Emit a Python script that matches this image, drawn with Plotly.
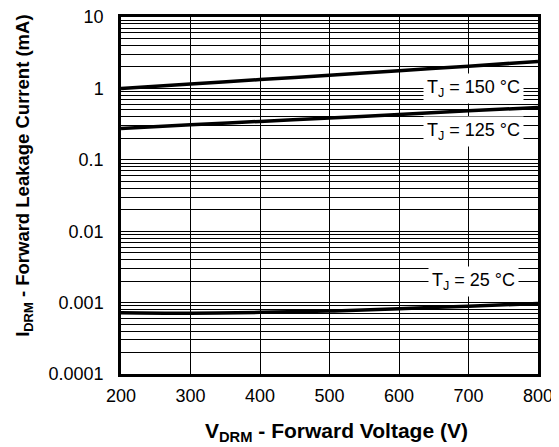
import math
import plotly.graph_objects as go

voltage = [200, 300, 400, 500, 600, 700, 800]
i_150 = [1.0, 1.15, 1.33, 1.53, 1.77, 2.05, 2.38]
i_125 = [0.275, 0.31, 0.345, 0.385, 0.43, 0.485, 0.54]
i_25 = [0.00072, 0.00071, 0.00073, 0.00076, 0.00082, 0.00089, 0.00097]

x_ticks = [200, 300, 400, 500, 600, 700, 800]
y_ticks = [0.0001, 0.001, 0.01, 0.1, 1, 10]
y_ticktext = ["0.0001", "0.001", "0.01", "0.1", "1", "10"]
y_minor = [m * 10 ** e for e in range(-4, 1) for m in range(2, 10)]

labels = ["T<sub>J</sub> = 150 °C", "T<sub>J</sub> = 125 °C", "T<sub>J</sub> = 25 °C"]
label_x = [707, 707, 707]
label_y = [1.0, 0.25, 0.00198]

x_title = "<b>V<sub>DRM</sub> - Forward Voltage (V)</b>"
y_title = "<b>I<sub>DRM</sub> - Forward Leakage Current (mA)</b>"

FONT = "Liberation Sans, Arial, Helvetica, sans-serif"

fig = go.Figure()
for ys in (i_150, i_125, i_25):
    fig.add_trace(go.Scatter(x=voltage, y=ys, mode="lines",
                             line=dict(color="black", width=3.5, shape="spline"),
                             showlegend=False, hoverinfo="skip"))

for t, lx, ly in zip(labels, label_x, label_y):
    fig.add_annotation(x=lx, y=math.log10(ly), text=t, showarrow=False,
                       bgcolor="white", font=dict(size=18, color="black", family=FONT),
                       borderpad=3)

# axis titles as annotations for precise placement
fig.add_annotation(text=x_title, xref="paper", yref="paper", x=0.517, y=0,
                   xanchor="center", yanchor="middle", yshift=-58, showarrow=False,
                   font=dict(size=21, color="black", family=FONT))
fig.add_annotation(text=y_title, xref="paper", yref="paper", x=0, y=0.555,
                   xanchor="center", yanchor="middle", xshift=-97, textangle=-90,
                   showarrow=False, font=dict(size=18.5, color="black", family=FONT))

fig.update_layout(
    width=551, height=439,
    margin=dict(l=113, r=21, t=9, b=73),
    paper_bgcolor="white", plot_bgcolor="white",
    font=dict(family=FONT, color="black", size=18),
    xaxis=dict(range=[200, 800], tickvals=x_ticks, showgrid=True, gridcolor="black",
               gridwidth=1, showline=True, linecolor="black", linewidth=2.5, mirror=True,
               ticks="", zeroline=False, tickfont=dict(size=18), ticklabelstandoff=4,
               automargin=False, ticklabeloverflow="allow"),
    yaxis=dict(type="log", range=[-4, 1], tickvals=y_ticks, ticktext=y_ticktext,
               showgrid=True, gridcolor="black", gridwidth=1,
               showline=True, linecolor="black", linewidth=2.5, mirror=True,
               ticks="", zeroline=False, tickfont=dict(size=18), ticklabelstandoff=11,
               automargin=False, ticklabeloverflow="allow",
               minor=dict(tickvals=y_minor, showgrid=True, gridcolor="black", gridwidth=1, ticks="")),
)

fig.write_html("out.html")
